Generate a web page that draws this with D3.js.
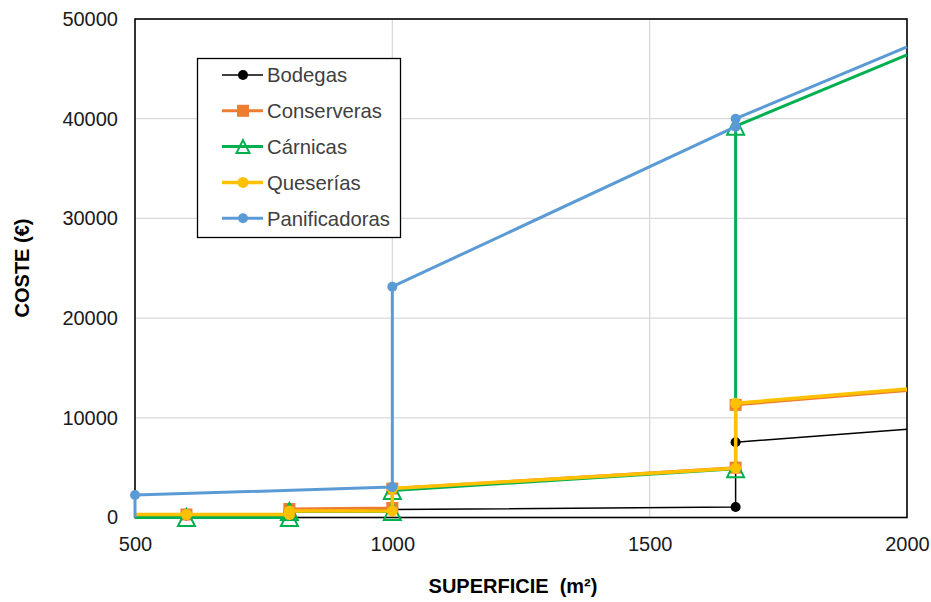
<!DOCTYPE html>
<html><head><meta charset="utf-8">
<script src="https://cdn.jsdelivr.net/npm/d3@7"></script>
<style>body{margin:0;background:#fff}svg{display:block}text{font-family:Arial,"Liberation Sans",sans-serif}</style>
</head><body>
<svg id="c" width="931" height="602"></svg>
<script>
// ---- data ----
const seriesNames = ["Bodegas", "Conserveras", "Cárnicas", "Queserías", "Panificadoras"];
const bodegasX = [500, 600, 800, 800, 1000, 1667, 1667, 2000];
const bodegasY = [200, 200, 200, 600, 800, 1050, 7550, 8850];
const bodegasM = [0, 1, 1, 1, 1, 1, 1, 0];
const conserverasX = [500, 600, 800, 800, 1000, 1000, 1667, 1667, 2000];
const conserverasY = [300, 300, 300, 850, 950, 2900, 5000, 11300, 12750];
const conserverasM = [0, 1, 1, 1, 1, 1, 1, 1, 0];
const carnicasX = [500, 600, 800, 800, 1000, 1000, 1667, 1667, 2000];
const carnicasY = [0, 0, 0, 600, 600, 2700, 4900, 39250, 46400];
const carnicasM = [0, 1, 1, 1, 1, 1, 1, 1, 0];
const queseriasX = [500, 600, 800, 800, 1000, 1000, 1667, 1667, 2000];
const queseriasY = [300, 300, 300, 650, 650, 2900, 4950, 11450, 12900];
const queseriasM = [0, 1, 1, 1, 1, 1, 1, 1, 0];
const panificadorasX = [500, 500, 1000, 1000, 1667, 1667, 2000];
const panificadorasY = [0, 2250, 3050, 23150, 39200, 40000, 47200];
const panificadorasM = [0, 1, 1, 1, 1, 1, 0];
const xTicks = [500, 1000, 1500, 2000];
const yTicks = [0, 10000, 20000, 30000, 40000, 50000];
const xTitle = "SUPERFICIE  (m²)";
const yTitle = "COSTE (€)";

// ---- styles ----
const styles = [
  {color: "#000000", width: 1.5, marker: "circle", fill: "#000000", size: 10},
  {color: "#ED7D31", width: 3, marker: "square", fill: "#ED7D31", size: 12},
  {color: "#00B050", width: 3, marker: "triangle", fill: "none", size: 17},
  {color: "#FFC000", width: 3.5, marker: "circle", fill: "#FFC000", size: 11},
  {color: "#5B9BD5", width: 3, marker: "circle", fill: "#5B9BD5", size: 10}
];
const raw = [[bodegasX, bodegasY, bodegasM], [conserverasX, conserverasY, conserverasM],
  [carnicasX, carnicasY, carnicasM], [queseriasX, queseriasY, queseriasM],
  [panificadorasX, panificadorasY, panificadorasM]];
const series = raw.map((r, i) => ({name: seriesNames[i], style: styles[i],
  pts: r[0].map((x, j) => ({x, y: r[1][j], m: r[2][j]}))}));

const svg = d3.select("#c");
const L = 135, R = 907, T = 19, B = 517.5;
const x = d3.scaleLinear().domain([500, 2000]).range([L, R]);
const y = d3.scaleLinear().domain([0, 50000]).range([B, T]);

// gridlines
svg.append("g").selectAll("line").data(yTicks.slice(1, -1)).join("line")
  .attr("x1", L).attr("x2", R).attr("y1", d => y(d)).attr("y2", d => y(d))
  .attr("stroke", "#D9D9D9").attr("stroke-width", 1.3);
svg.append("g").selectAll("line").data(xTicks.slice(1, -1)).join("line")
  .attr("y1", T).attr("y2", B).attr("x1", d => x(d)).attr("x2", d => x(d))
  .attr("stroke", "#D9D9D9").attr("stroke-width", 1.3);

// axes (labels only)
const yAxis = svg.append("g").attr("transform", `translate(${L},0)`)
  .call(d3.axisLeft(y).tickValues(yTicks).tickSize(0).tickPadding(17).tickFormat(d3.format("d")));
const xAxis = svg.append("g").attr("transform", `translate(0,${B})`)
  .call(d3.axisBottom(x).tickValues(xTicks).tickSize(0).tickPadding(19).tickFormat(d3.format("d")));
[yAxis, xAxis].forEach(a => {
  a.select(".domain").remove();
  a.selectAll("text").attr("font-size", 20).attr("fill", "#1a1a1a").attr("font-family", "Arial, 'Liberation Sans', sans-serif");
});

// frame
svg.append("rect").attr("x", L).attr("y", T).attr("width", R - L).attr("height", B - T)
  .attr("fill", "none").attr("stroke", "#000").attr("stroke-width", 1.6);

// lines + markers
const line = d3.line().x(d => x(d.x)).y(d => y(d.y));
function marker(g, st, cx, cy) {
  if (st.marker === "circle") {
    g.append("circle").attr("cx", cx).attr("cy", cy).attr("r", st.size / 2).attr("fill", st.fill);
  } else if (st.marker === "square") {
    g.append("rect").attr("x", cx - st.size / 2).attr("y", cy - st.size / 2)
      .attr("width", st.size).attr("height", st.size).attr("fill", st.fill);
  } else {
    const h = st.size / 2;
    g.append("path").attr("d", `M${cx},${cy - h}L${cx + h},${cy + h}L${cx - h},${cy + h}Z`)
      .attr("fill", st.fill).attr("stroke", st.color).attr("stroke-width", 2);
  }
}
series.forEach(s => {
  const g = svg.append("g");
  g.append("path").attr("d", line(s.pts)).attr("fill", "none")
    .attr("stroke", s.style.color).attr("stroke-width", s.style.width).attr("stroke-linejoin", "round");
  s.pts.filter(p => p.m).forEach(p => marker(g, s.style, x(p.x), y(p.y)));
});

// legend
const lg = svg.append("g");
lg.append("rect").attr("x", 197.5).attr("y", 58.5).attr("width", 203).attr("height", 179)
  .attr("fill", "#fff").attr("stroke", "#000").attr("stroke-width", 1.3);
series.forEach((s, i) => {
  const cy = 75 + i * 35.8;
  const g = lg.append("g");
  g.append("line").attr("x1", 222).attr("x2", 263).attr("y1", cy).attr("y2", cy)
    .attr("stroke", s.style.color).attr("stroke-width", s.style.width);
  const st = Object.assign({}, s.style, {size: s.style.marker === "triangle" ? 13 : s.style.size});
  marker(g, st, 243, cy);
  g.append("text").attr("x", 267).attr("y", cy).attr("dy", "0.36em")
    .attr("font-size", 20.3).attr("fill", "#404040").text(s.name);
});

// titles
svg.append("text").attr("x", 513).attr("y", 586).attr("dy", "0.36em").attr("text-anchor", "middle")
  .style("white-space", "pre")
  .attr("font-size", 20).attr("font-weight", "bold").attr("fill", "#000").text(xTitle);
svg.append("text").attr("transform", "translate(22,268) rotate(-90)").attr("dy", "0.36em")
  .attr("text-anchor", "middle").attr("font-size", 20).attr("font-weight", "bold").attr("fill", "#000").text(yTitle);
</script>
</body></html>
